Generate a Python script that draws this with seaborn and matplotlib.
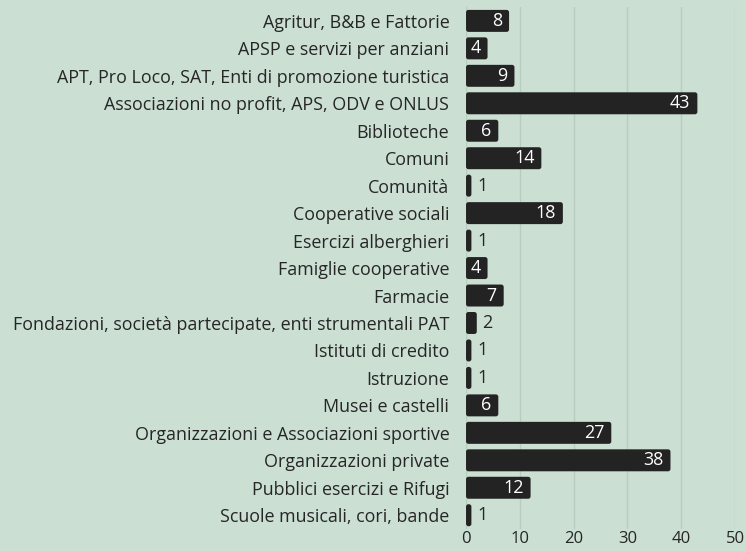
import matplotlib
matplotlib.use("Agg")
import matplotlib.pyplot as plt
from matplotlib.patches import FancyBboxPatch
import seaborn as sns
import pandas as pd

# categorie e valori
categorie = [
    "Agritur, B&B e Fattorie",
    "APSP e servizi per anziani",
    "APT, Pro Loco, SAT, Enti di promozione turistica",
    "Associazioni no profit, APS, ODV e ONLUS",
    "Biblioteche",
    "Comuni",
    "Comunità",
    "Cooperative sociali",
    "Esercizi alberghieri",
    "Famiglie cooperative",
    "Farmacie",
    "Fondazioni, società partecipate, enti strumentali PAT",
    "Istituti di credito",
    "Istruzione",
    "Musei e castelli",
    "Organizzazioni e Associazioni sportive",
    "Organizzazioni private",
    "Pubblici esercizi e Rifugi",
    "Scuole musicali, cori, bande",
]
valori = [8, 4, 9, 43, 6, 14, 1, 18, 1, 4, 7, 2, 1, 1, 6, 27, 38, 12, 1]
tick_x = [0, 10, 20, 30, 40, 50]

df = pd.DataFrame({"categoria": categorie, "valore": valori})

bg = "#cbdfd3"
bar_col = "#232323"
txt_col = "#262626"
sns.set_theme(style="whitegrid")
plt.rcParams["font.family"] = ["Open Sans", "DejaVu Sans"]

fig = plt.figure(figsize=(7.46, 5.51), dpi=100, facecolor=bg)
ax = fig.add_axes([0.6247, 0.04, 0.3606, 0.947])
ax.set_facecolor(bg)

sns.barplot(data=df, y="categoria", x="valore", color=bar_col,
            saturation=1, width=0.8, linewidth=0, ax=ax)

# angoli arrotondati
for p in list(ax.patches):
    p.set_visible(False)
    rb = FancyBboxPatch((p.get_x(), p.get_y()), p.get_width(), p.get_height(),
                        boxstyle="round,pad=0,rounding_size=0.45",
                        mutation_aspect=0.2, facecolor=bar_col,
                        edgecolor="none", zorder=2)
    ax.add_patch(rb)

bars = [p for p in ax.patches if not p.get_visible()]
for p, v in zip(bars, valori):
    yc = p.get_y() + p.get_height() / 2
    if v >= 4:
        ax.annotate(str(v), (p.get_width(), yc), xytext=(-5, 0),
                    textcoords="offset points", ha="right", va="center",
                    color="white", fontsize=12.9, zorder=3)
    else:
        ax.annotate(str(v), (p.get_width(), yc), xytext=(4, 0),
                    textcoords="offset points", ha="left", va="center",
                    color=txt_col, fontsize=12.9, zorder=3)

ax.set_xlim(0, 50)
ax.set_xticks(tick_x)
ax.set_xlabel("")
ax.set_ylabel("")
ax.grid(axis="x", color="#b8ccc0", linewidth=1)
ax.grid(axis="y", visible=False)
ax.set_axisbelow(True)
for s in ax.spines.values():
    s.set_visible(False)
ax.tick_params(axis="both", length=0, labelcolor=txt_col)
ax.tick_params(axis="y", pad=12, labelsize=12.9)
ax.tick_params(axis="x", pad=1.5, labelsize=12)

fig.savefig("out.png", dpi=100, facecolor=bg)
